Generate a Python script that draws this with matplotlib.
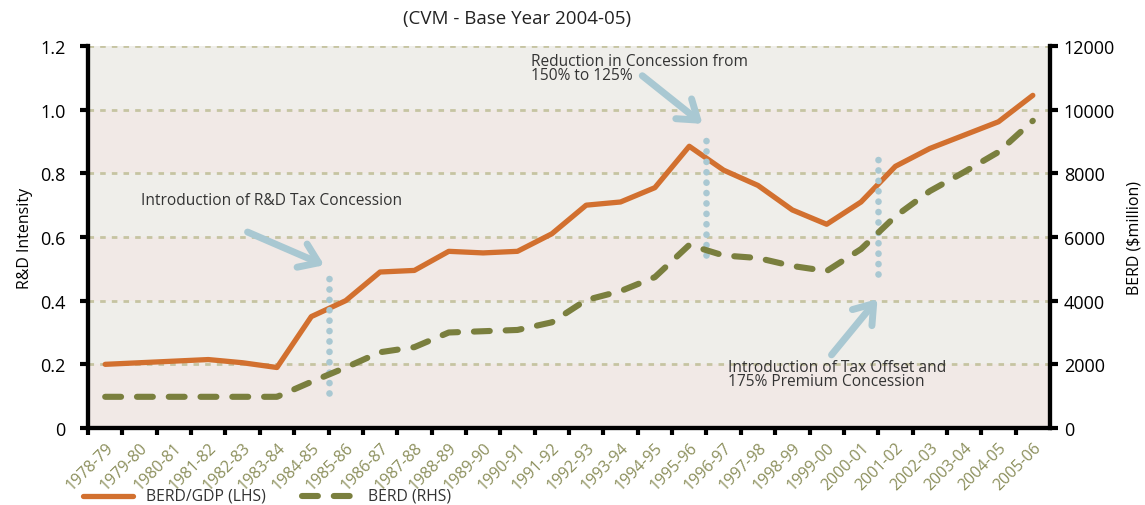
import matplotlib
matplotlib.use("Agg")
import matplotlib.pyplot as plt
from matplotlib.patches import FancyArrowPatch

years = ["1978-79", "1979-80", "1980-81", "1981-82", "1982-83", "1983-84", "1984-85",
         "1985-86", "1986-87", "1987-88", "1988-89", "1989-90", "1990-91", "1991-92",
         "1992-93", "1993-94", "1994-95", "1995-96", "1996-97", "1997-98", "1998-99",
         "1999-00", "2000-01", "2001-02", "2002-03", "2003-04", "2004-05", "2005-06"]
berd_gdp = [0.200, 0.205, 0.210, 0.215, 0.205, 0.190, 0.350, 0.400, 0.490, 0.495,
            0.555, 0.550, 0.555, 0.610, 0.700, 0.710, 0.755, 0.885, 0.810, 0.762,
            0.685, 0.640, 0.710, 0.822, 0.878, 0.920, 0.962, 1.045]
berd = [980, 980, 980, 980, 980, 980, 1450, 1900, 2380, 2540,
        3000, 3040, 3080, 3320, 4020, 4300, 4740, 5750, 5420, 5340,
        5090, 4930, 5620, 6650, 7440, 8040, 8670, 9650]
left_ticks = [0, 0.2, 0.4, 0.6, 0.8, 1.0, 1.2]
left_labels = ["0", "0.2", "0.4", "0.6", "0.8", "1.0", "1.2"]
right_ticks = [0, 2000, 4000, 6000, 8000, 10000, 12000]

plt.rcParams['font.family'] = ['Open Sans', 'DejaVu Sans']

fig = plt.figure(figsize=(11.45, 5.06), dpi=100)
ax = fig.add_axes([88/1145, 1-429/506, (1050-88)/1145, (429-47)/506])
ax2 = ax.twinx()

n = len(years)
x = list(range(n))
ax.set_xlim(-0.5, n - 0.5)
ax.set_ylim(0, 1.2)
ax2.set_ylim(0, 12000)

# background bands
band_cols = ["#f1e9e6", "#efeeea"]
for i in range(6):
    ax.axhspan(left_ticks[i], left_ticks[i+1], color=band_cols[i % 2], zorder=0, lw=0)
for t in left_ticks[1:]:
    ax.axhline(t, color="#c6c4a2", lw=2, ls=(0, (2, 2.2)), zorder=1)

# lines
ax.plot(x, berd_gdp, color="#d2702f", lw=3.8, solid_joinstyle="round",
        solid_capstyle="round", zorder=5)
ax2.plot(x, berd, color="#7a7f3e", lw=4.4, ls=(0, (2.6, 2.6)),
         dash_capstyle="round", zorder=5)

# ticks
ax.set_yticks(left_ticks)
ax.set_yticklabels(left_labels, fontsize=13)
ax2.set_yticks(right_ticks)
ax2.set_yticklabels([str(t) for t in right_ticks], fontsize=13)
ax.set_xticks(x)
ax.set_xticklabels(years, rotation=45, ha="right", rotation_mode="anchor",
                   fontsize=11.5, color="#8c8f5c")
ax.set_xticks([i + 0.5 for i in range(-1, n - 1)], minor=True)
ax.tick_params(axis="x", which="major", length=0, pad=8)
ax.tick_params(axis="x", which="minor", length=5, width=3, direction="out", color="black")
ax.tick_params(axis="y", length=6, width=3, direction="out", pad=10)
ax2.tick_params(axis="y", length=6, width=3, direction="out", pad=4)

for a in (ax, ax2):
    a.spines["top"].set_visible(False)
    for s in ("left", "right", "bottom"):
        a.spines[s].set_linewidth(3)
        a.spines[s].set_color("black")
ax.set_facecolor("none")

ax.set_ylabel("R&D Intensity", fontsize=11.5, labelpad=5)
ax2.set_ylabel("BERD ($million)", fontsize=11.5, labelpad=8)

fig.text(517/1145, 1-19/506, "(CVM - Base Year 2004-05)", ha="center", va="center",
         fontsize=13.5, color="#222222")

# annotations
blue = "#a9c8d2"
def vdot(xpos, y0, y1):
    ax.plot([xpos, xpos], [y0, y1], color=blue, lw=4.8, ls=(0, (0.01, 1.55)),
            dash_capstyle="round", zorder=6)

vdot(6.5, 0.11, 0.49)
vdot(17.5, 0.545, 0.91)
vdot(22.5, 0.485, 0.85)

def arrow(p0, p1):
    a = FancyArrowPatch(p0, p1, arrowstyle="->,head_length=5,head_width=3.5",
                        color=blue, lw=5, mutation_scale=2.6, zorder=6,
                        capstyle="round", joinstyle="round")
    ax.add_patch(a)

arrow((4.07, 0.619), (6.45, 0.508))
arrow((15.57, 1.112), (17.45, 0.950))
arrow((21.09, 0.223), (22.53, 0.412))

ax.text(1.04, 0.715, "Introduction of R&D Tax Concession", fontsize=11.2,
        color="#333333", va="center", ha="left", zorder=7)
ax.text(12.39, 1.13, "Reduction in Concession from\n150% to 125%", fontsize=11.2,
        color="#333333", va="center", ha="left", linespacing=0.8, zorder=7)
ax.text(18.13, 0.17, "Introduction of Tax Offset and\n175% Premium Concession", fontsize=11.2,
        color="#333333", va="center", ha="left", linespacing=0.8, zorder=7)

# legend
fig.lines.append(plt.Line2D([83/1145, 133/1145], [1-497/506]*2, color="#d2702f", lw=3.8,
                            solid_capstyle="round", transform=fig.transFigure))
fig.text(146/1145, 1-497/506, "BERD/GDP (LHS)", fontsize=11.3, va="center", color="#333333")
fig.lines.append(plt.Line2D([302/1145, 355/1145], [1-497/506]*2, color="#7a7f3e", lw=4.4,
                            ls=(0, (2.6, 2.6)), dash_capstyle="round", transform=fig.transFigure))
fig.text(368/1145, 1-497/506, "BERD (RHS)", fontsize=11.3, va="center", color="#333333")

fig.savefig("out.png", dpi=100, facecolor="white")
